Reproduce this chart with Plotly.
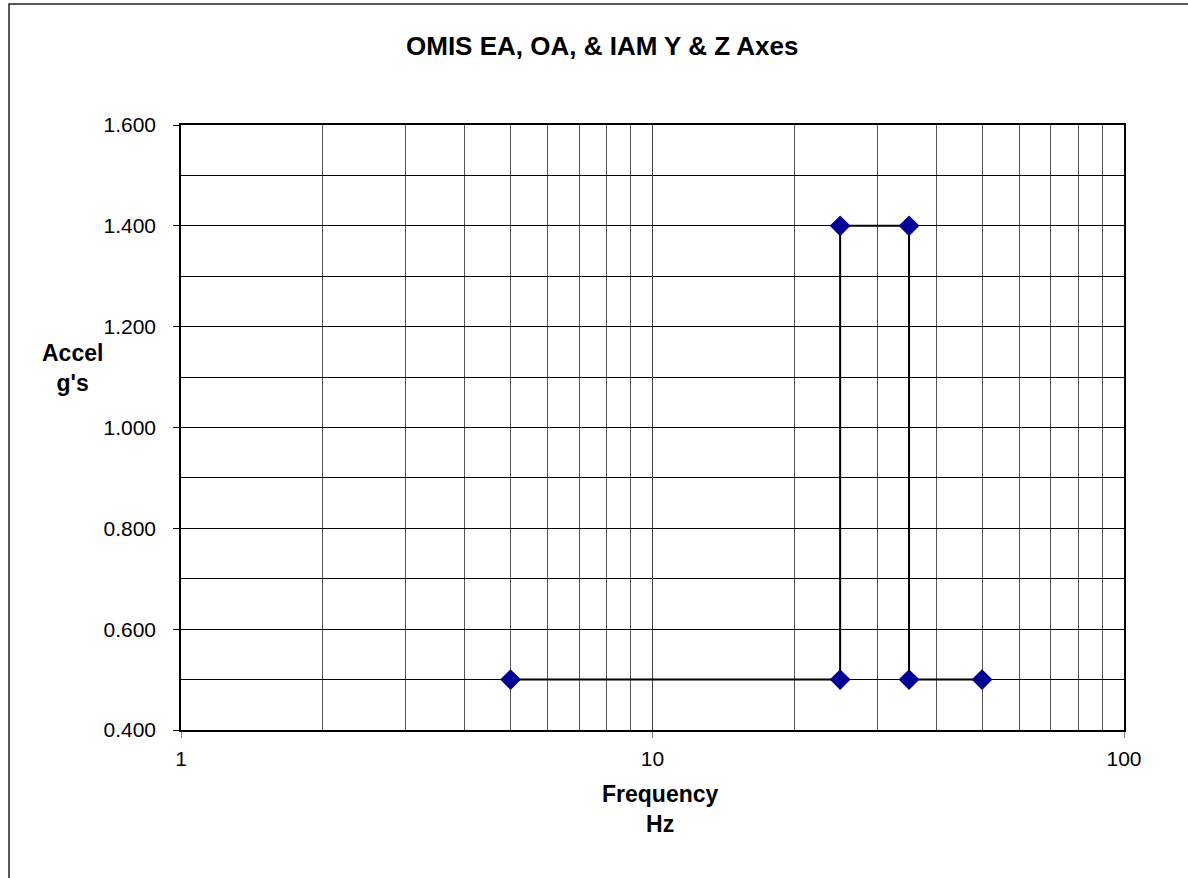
import plotly.graph_objects as go

freq_hz = [5, 25, 25, 35, 35, 50]
accel_g = [0.5, 0.5, 1.4, 1.4, 0.5, 0.5]

x_major = [1, 10, 100]
x_major_text = ["1", "10", "100"]
x_minor = [2, 3, 4, 5, 6, 7, 8, 9, 20, 30, 40, 50, 60, 70, 80, 90]
y_major = [0.4, 0.6, 0.8, 1.0, 1.2, 1.4, 1.6]
y_major_text = ["0.400", "0.600", "0.800", "1.000", "1.200", "1.400", "1.600"]
y_minor = [0.5, 0.7, 0.9, 1.1, 1.3, 1.5]

title_text = "OMIS EA, OA, & IAM Y & Z Axes"
x_title = "Frequency<br>Hz"
y_title = "Accel<br>g's"

W, H = 1188, 878
L, R, T, B = 181, 1124, 125, 730
pw, ph = R - L, B - T

def px(x):
    return (x - L) / pw

def py(y):
    return (B - y) / ph

fig = go.Figure()
fig.add_trace(go.Scatter(
    x=freq_hz, y=accel_g, mode="lines+markers",
    line=dict(color="black", width=2),
    marker=dict(symbol="diamond", size=16, color="#000099"),
    showlegend=False,
))

font = "Liberation Sans, Arial, sans-serif"
fig.update_layout(
    width=W, height=H,
    margin=dict(l=L, r=W - R, t=T, b=H - B),
    paper_bgcolor="white", plot_bgcolor="white",
    font=dict(family=font, size=21, color="black"),
    xaxis=dict(
        type="log", range=[0, 2],
        tickvals=x_major, ticktext=x_major_text,
        ticks="outside", ticklen=6, tickcolor="#808080",
        ticklabelstandoff=3,
        showgrid=True, gridcolor="#404040", gridwidth=1,
        showline=True, linecolor="black", linewidth=1.5, mirror=True,
        zeroline=False,
        minor=dict(tickvals=x_minor, showgrid=True, gridcolor="#555555", gridwidth=1, ticks=""),
    ),
    yaxis=dict(
        range=[0.4, 1.6],
        tickvals=y_major, ticktext=y_major_text,
        ticks="outside", ticklen=6, tickcolor="black",
        ticklabelstandoff=13,
        showgrid=True, gridcolor="black", gridwidth=1,
        showline=True, linecolor="black", linewidth=1.5, mirror=True,
        zeroline=False,
        minor=dict(tickvals=y_minor, showgrid=True, gridcolor="black", gridwidth=1, ticks=""),
    ),
)

fig.add_annotation(text="<b>" + title_text + "</b>", xref="paper", yref="paper",
                   x=px(602), y=py(46), showarrow=False, font=dict(size=26, family=font),
                   xanchor="center", yanchor="middle")
fig.add_annotation(text="<b>" + x_title + "</b>", xref="paper", yref="paper",
                   x=px(660), y=py(809), showarrow=False, font=dict(size=23, family=font),
                   xanchor="center", yanchor="middle")
fig.add_annotation(text="<b>" + y_title + "</b>", xref="paper", yref="paper",
                   x=px(72), y=py(368), showarrow=False, font=dict(size=23, family=font),
                   xanchor="center", yanchor="middle")

fig.add_shape(type="rect", xref="paper", yref="paper",
              x0=px(9), x1=px(1200), y0=py(900), y1=py(4),
              line=dict(color="#222222", width=1.5), fillcolor="rgba(0,0,0,0)", layer="below")

fig.write_html("out.html", config={"displayModeBar": False},
               post_script="document.body.style.margin='0';")
